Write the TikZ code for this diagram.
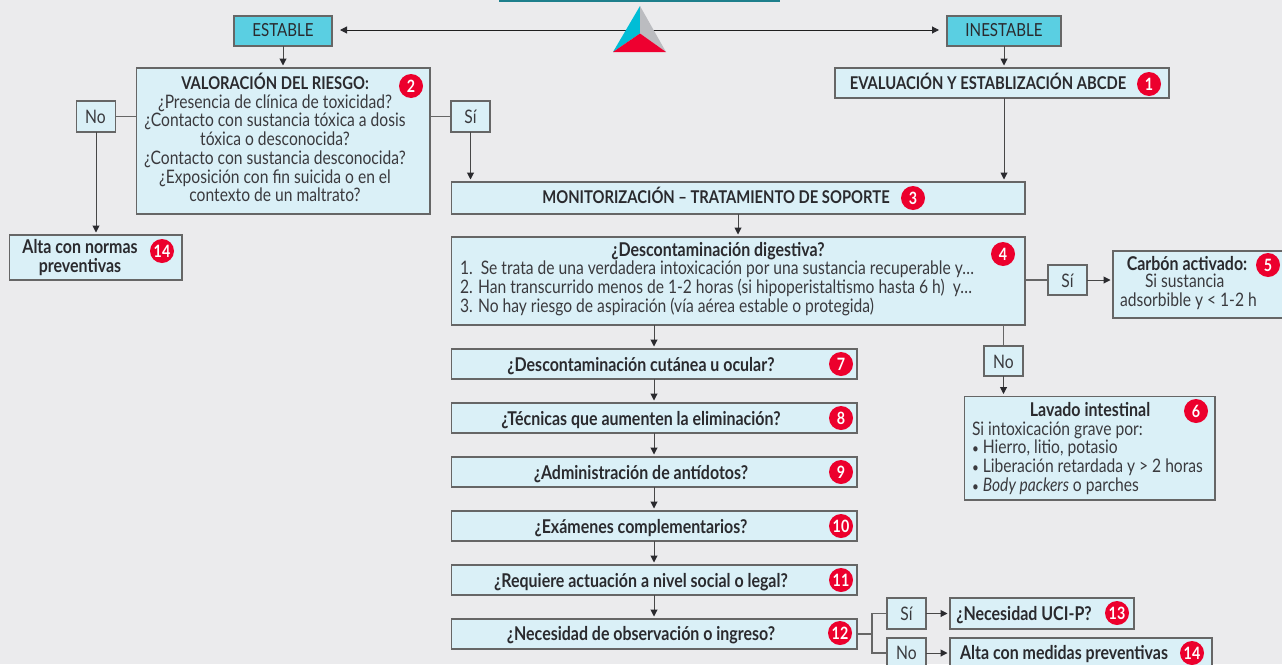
\documentclass[tikz,border=0pt]{standalone}
\usepackage{fontspec}
\setmainfont[FakeStretch=0.84]{Lato}
\usetikzlibrary{arrows.meta}
\definecolor{bgc}{HTML}{EBEBED}
\definecolor{boxc}{HTML}{DAF0F7}
\definecolor{cyanbox}{HTML}{5ACFE2}
\definecolor{edgec}{HTML}{666666}
\definecolor{redb}{HTML}{EC002D}
\definecolor{inkc}{HTML}{2A2A2E}
\definecolor{txtc}{HTML}{3A3A3E}
\definecolor{tealc}{HTML}{1E7F8C}
\definecolor{triC}{HTML}{00BDD6}
\definecolor{triG}{HTML}{BBBCC0}
\definecolor{triR}{HTML}{EE0030}
\tikzset{
  x=1pt,y=-1pt,
  boxst/.style={draw=edgec,line width=1.2pt,fill=boxc,inner sep=0pt,outer sep=0pt},
  topst/.style={boxst,fill=cyanbox},
  txtst/.style={inner sep=0pt,outer sep=0pt,font=\fontsize{18.6}{18.7}\selectfont,text=txtc,align=center},
  boldst/.style={txtst,font=\fontsize{19}{18.7}\selectfont\bfseries,text=inkc},
  capsst/.style={txtst,font=\fontsize{17.6}{18.7}\selectfont\bfseries,text=inkc},
  leftst/.style={txtst,align=left,anchor=west},
  badge/.style={circle,fill=redb,inner sep=0pt,outer sep=0pt,minimum size=24pt,text=white,font=\fontsize{17}{17}\selectfont\bfseries},
  link/.style={draw=edgec,line width=1.2pt},
  arr/.style={draw=edgec!70!black,line width=1pt,shorten >=2.5pt,-{Triangle[length=7pt,width=7pt,color=inkc]}},
  arrb/.style={draw=edgec!30!black,line width=1pt,{Triangle[length=7pt,width=7pt,color=inkc]}-{Triangle[length=7pt,width=7pt,color=inkc]}}
}
\newcommand{\bx}[6]{\node[#6,anchor=north west,minimum width=#4pt-#2pt,minimum height=#5pt-#3pt] (#1) at (#2,#3) {};}
\newcommand{\blt}{{\fontsize{14}{14}\selectfont •}}
\begin{document}
\begin{tikzpicture}
\useasboundingbox (0,0) rectangle (1282,664);
\clip (0,0) rectangle (1282,664);
\fill[bgc] (0,0) rectangle (1282,664);
\fill[tealc] (499,0) rectangle (780,1.5);

% boxes
\bx{est}{234}{16}{332}{46}{topst}
\bx{ine}{947}{16}{1061}{46}{topst}
\bx{val}{136.5}{68}{430}{214}{boxst}
\bx{no1}{76.5}{101}{115.5}{132}{boxst}
\bx{si1}{451}{101}{490}{132}{boxst}
\bx{alt1}{9.5}{235}{182}{280}{boxst}
\bx{eva}{835}{68}{1169}{98}{boxst}
\bx{mon}{451.5}{182}{1025}{214}{boxst}
\bx{des}{451.5}{237}{1025}{325}{boxst}
\bx{si2}{1048}{265}{1087}{295}{boxst}
\bx{car}{1113}{251}{1290}{318}{boxst}
\bx{no2}{984}{346}{1023}{376}{boxst}
\bx{lav}{964.5}{396.5}{1215}{500}{boxst}
\bx{s7}{451.5}{349}{857}{379}{boxst}
\bx{s8}{451.5}{403}{857}{433}{boxst}
\bx{s9}{451.5}{457}{857}{487}{boxst}
\bx{s10}{451.5}{511}{857}{541}{boxst}
\bx{s11}{451.5}{565}{857}{595}{boxst}
\bx{s12}{451.5}{619}{857}{649}{boxst}
\bx{si3}{887}{598}{926}{629}{boxst}
\bx{no3}{887}{638}{926}{672}{boxst}
\bx{uci}{950}{598}{1134}{629}{boxst}
\bx{alt2}{950}{638}{1212}{672}{boxst}

% logo and connector between the top boxes
\coordinate (ea) at (est.east |- 0,30);
\coordinate (ia) at (ine.west |- 0,30);
\draw[arrb,shorten <=8pt,shorten >=8pt] (ea) -- (ia);
\fill[triC] (640,6) -- (613,52) -- (640,33.5) -- cycle;
\fill[triG] (640,6) -- (666,52) -- (640,33.5) -- cycle;
\fill[triR] (613,52) -- (666,52) -- (640,33.5) -- cycle;

% connectors
\draw[arr] (est.south) -- (est.south |- val.north);
\draw[arr] (ine.south) -- (ine.south |- eva.north);
\draw[arr] (ine.south |- eva.south) -- (ine.south |- mon.north);
\draw[link] (val.west |- no1.east) -- (no1.east);
\draw[link] (val.east |- si1.west) -- (si1.west);
\draw[arr] (no1.south) -- (no1.south |- alt1.north);
\draw[arr] (si1.south) -- (si1.south |- mon.north);
\coordinate (c1) at (738,214);
\draw[arr] (c1) -- (c1 |- des.north);
\coordinate (c2) at (654,325);
\draw[arr] (c2) -- (c2 |- s7.north);
\draw[arr] (c2 |- s7.south) -- (c2 |- s8.north);
\draw[arr] (c2 |- s8.south) -- (c2 |- s9.north);
\draw[arr] (c2 |- s9.south) -- (c2 |- s10.north);
\draw[arr] (c2 |- s10.south) -- (c2 |- s11.north);
\draw[arr] (c2 |- s11.south) -- (c2 |- s12.north);
\draw[link] (des.east |- si2.west) -- (si2.west);
\draw[arr] (si2.east) -- (si2.east -| car.west);
\draw[link] (no2.north |- des.south) -- (no2.north);
\draw[arr] (no2.south) -- (no2.south |- lav.north);
\coordinate (j) at (872,634);
\coordinate (jn) at (872,653);
\draw[link] (s12.east |- j) -- (j);
\draw[link] (si3.west) -- (si3.west -| j) -- (jn) -- (jn -| no3.west);
\draw[arr] (si3.east) -- (si3.east -| uci.west);
\draw[arr] (jn -| no3.east) -- (jn -| alt2.west);

% labels
\node[txtst,font=\fontsize{18}{18}\selectfont,text=inkc] (test) at (283,30) {ESTABLE};
\node[txtst,font=\fontsize{18}{18}\selectfont,text=inkc] (tine) at (1004,30) {INESTABLE};
\node[capsst] (tval) at (275,81.5) {VALORACIÓN DEL RIESGO:};
\node[txtst,anchor=north] (tval2) at (275,94.5) {¿Presencia de clínica de toxicidad?\\¿Contacto con sustancia tóxica a dosis\\tóxica o desconocida?\\¿Contacto con sustancia desconocida?\\¿Exposición con fin suicida o en el\\contexto de un maltrato?};
\node[txtst] (tno1) at (95.5,116.5) {No};
\node[txtst] (tsi1) at (470.5,116.5) {Sí};
\node[boldst] (talt1) at (80,257.5) {Alta con normas\\preventivas};
\node[capsst] (teva) at (988,81.5) {EVALUACIÓN Y ESTABLIZACIÓN ABCDE};
\node[capsst] (tmon) at (716,195.5) {MONITORIZACIÓN – TRATAMIENTO DE SOPORTE};
\node[boldst] (tdes) at (718,251) {¿Descontaminación digestiva?};
\node[leftst] (tdes2) at (460,288.5) {1.\ \ Se trata de una verdadera intoxicación por una sustancia recuperable y…\\2. Han transcurrido menos de 1-2 horas (si hipoperistaltismo hasta 6 h)\ \ y…\\3. No hay riesgo de aspiración (vía aérea estable o protegida)};
\node[txtst] (tsi2) at (1067.5,281) {Sí};
\node[boldst] (tcar) at (1187,264) {Carbón activado:};
\node[leftst] (tcar2) at (1120,292) {\hspace*{25pt}Si sustancia\\adsorbible y < 1-2 h};
\node[txtst] (tno2) at (1003.5,361.5) {No};
\node[boldst] (tlav) at (1090,410) {Lavado intestinal};
\node[leftst] (tlav2) at (972,458) {Si intoxicación grave por:\\\blt\ Hierro, litio, potasio\\\blt\ Liberación retardada y > 2 horas\\\blt\ \textit{Body packers} o parches};
\node[boldst] (t7) at (641,366) {¿Descontaminación cutánea u ocular?};
\node[boldst] (t8) at (641,420) {¿Técnicas que aumenten la eliminación?};
\node[boldst] (t9) at (641,474) {¿Administración de antídotos?};
\node[boldst] (t10) at (641,528) {¿Exámenes complementarios?};
\node[boldst] (t11) at (641,582) {¿Requiere actuación a nivel social o legal?};
\node[boldst] (t12) at (641,635) {¿Necesidad de observación o ingreso?};
\node[txtst] (tsi3) at (906.5,614) {Sí};
\node[txtst] (tno3) at (906.5,653) {No};
\node[boldst] (tuci) at (1024,615) {¿Necesidad UCI-P?};
\node[boldst] (talt2) at (1064,654.5) {Alta con medidas preventivas};

% badges
\node[badge] (b1) at (1149,84) {1};
\node[badge] (b2) at (411,86) {2};
\node[badge] (b3) at (913,198) {3};
\node[badge] (b4) at (1003,254) {4};
\node[badge] (b5) at (1268,265) {5};
\node[badge] (b6) at (1196,411) {6};
\node[badge] (b14a) at (162,251) {14};
\node[badge] (b7) at (841,364) {7};
\node[badge] (b8) at (841,418) {8};
\node[badge] (b9) at (841,472) {9};
\node[badge] (b10) at (841,526) {10};
\node[badge] (b11) at (841,580) {11};
\node[badge] (b12) at (840,633) {12};
\node[badge] (b13) at (1117,613) {13};
\node[badge] (b14b) at (1192,653) {14};
\end{tikzpicture}
\end{document}
